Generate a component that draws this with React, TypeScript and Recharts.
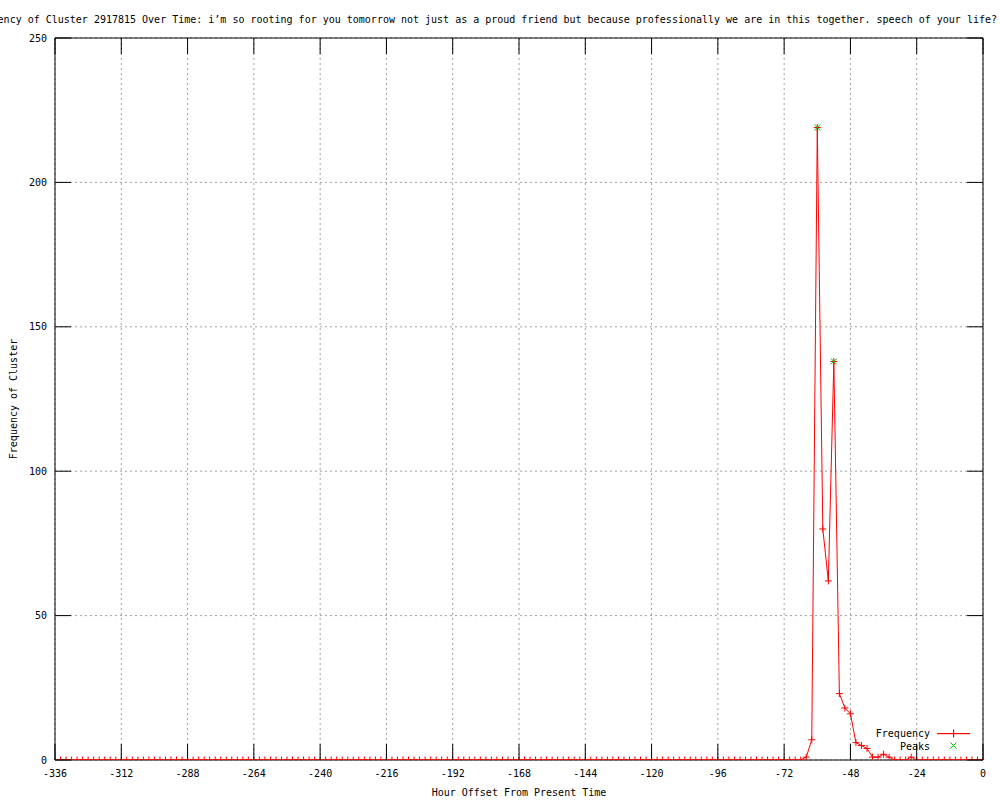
import React from 'react';
import { LineChart, Line, XAxis, YAxis, CartesianGrid, ReferenceArea, Legend } from 'recharts';

document.body.style.margin = '0';

const hours = [
  -336, -334, -332, -330, -328, -326, -324, -322, -320, -318, -316, -314,
  -312, -310, -308, -306, -304, -302, -300, -298, -296, -294, -292, -290,
  -288, -286, -284, -282, -280, -278, -276, -274, -272, -270, -268, -266,
  -264, -262, -260, -258, -256, -254, -252, -250, -248, -246, -244, -242,
  -240, -238, -236, -234, -232, -230, -228, -226, -224, -222, -220, -218,
  -216, -214, -212, -210, -208, -206, -204, -202, -200, -198, -196, -194,
  -192, -190, -188, -186, -184, -182, -180, -178, -176, -174, -172, -170,
  -168, -166, -164, -162, -160, -158, -156, -154, -152, -150, -148, -146,
  -144, -142, -140, -138, -136, -134, -132, -130, -128, -126, -124, -122,
  -120, -118, -116, -114, -112, -110, -108, -106, -104, -102, -100, -98,
  -96, -94, -92, -90, -88, -86, -84, -82, -80, -78, -76, -74,
  -72, -70, -68, -66, -64, -62, -60, -58, -56, -54, -52, -50,
  -48, -46, -44, -42, -40, -38, -36, -34, -32, -30, -28, -26,
  -24, -22, -20, -18, -16, -14, -12, -10, -8, -6, -4, -2,
  0,
];

const frequency = [
  0, 0, 0, 0, 0, 0, 0, 0, 0, 0, 0, 0,
  0, 0, 0, 0, 0, 0, 0, 0, 0, 0, 0, 0,
  0, 0, 0, 0, 0, 0, 0, 0, 0, 0, 0, 0,
  0, 0, 0, 0, 0, 0, 0, 0, 0, 0, 0, 0,
  0, 0, 0, 0, 0, 0, 0, 0, 0, 0, 0, 0,
  0, 0, 0, 0, 0, 0, 0, 0, 0, 0, 0, 0,
  0, 0, 0, 0, 0, 0, 0, 0, 0, 0, 0, 0,
  0, 0, 0, 0, 0, 0, 0, 0, 0, 0, 0, 0,
  0, 0, 0, 0, 0, 0, 0, 0, 0, 0, 0, 0,
  0, 0, 0, 0, 0, 0, 0, 0, 0, 0, 0, 0,
  0, 0, 0, 0, 0, 0, 0, 0, 0, 0, 0, 0,
  0, 0, 0, 0, 1, 7, 219, 80, 62, 138, 23, 18,
  16, 6, 5, 4, 1, 1, 2, 1, 0, 0, 0, 1,
  0, 0, 0, 0, 0, 0, 0, 0, 0, 0, 0, 0,
  0,
];

const peakHours = [-60, -54];
const peakValues = [219, 138];

const xTicks = [-336, -312, -288, -264, -240, -216, -192, -168, -144, -120, -96, -72, -48, -24, 0];
const yTicks = [0, 50, 100, 150, 200, 250];

const TITLE =
  'Frequency of Cluster 2917815 Over Time: i’m so rooting for you tomorrow not just as a proud friend but because professionally we are in this together. speech of your life?';
const X_LABEL = 'Hour Offset From Present Time';
const Y_LABEL = 'Frequency of Cluster';
const SERIES_NAME = 'Frequency';
const PEAKS_NAME = 'Peaks';

const data = hours.map((h, i) => {
  const pi = peakHours.indexOf(h);
  return { hour: h, freq: frequency[i], peak: pi >= 0 ? peakValues[pi] : null };
});

const W = 1000;
const H = 800;
const PLOT_LEFT = 55;
const PLOT_RIGHT = 983;
const PLOT_TOP = 38;
const PLOT_BOTTOM = 760;
const TICK = 16;
const FONT = "'DejaVu Sans Mono', 'Liberation Mono', monospace";
const FS = 10;
const RED = '#ff0000';
const GREEN = '#00c000';

const XTick = (props: any) => {
  const { x, payload } = props;
  return (
    <g>
      <line x1={x} y1={PLOT_BOTTOM} x2={x} y2={PLOT_BOTTOM - TICK} stroke="#000" strokeWidth={1} />
      <line x1={x} y1={PLOT_TOP} x2={x} y2={PLOT_TOP + TICK} stroke="#000" strokeWidth={1} />
      <text x={x} y={PLOT_BOTTOM + 17} textAnchor="middle" fontFamily={FONT} fontSize={FS} fill="#000">
        {payload.value}
      </text>
    </g>
  );
};

const YTick = (props: any) => {
  const { y, payload } = props;
  return (
    <g>
      <line x1={PLOT_LEFT} y1={y} x2={PLOT_LEFT + TICK} y2={y} stroke="#000" strokeWidth={1} />
      <line x1={PLOT_RIGHT} y1={y} x2={PLOT_RIGHT - TICK} y2={y} stroke="#000" strokeWidth={1} />
      <text x={PLOT_LEFT - 8} y={y + 3.5} textAnchor="end" fontFamily={FONT} fontSize={FS} fill="#000">
        {payload.value}
      </text>
    </g>
  );
};

const PlusDot = (props: any) => {
  const { cx, cy, index } = props;
  if (cx == null || cy == null) return <g key={`p${index}`} />;
  return (
    <g key={`p${index}`}>
      <line x1={cx - 3.5} y1={cy} x2={cx + 3.5} y2={cy} stroke={RED} strokeWidth={1} />
      <line x1={cx} y1={cy - 3.5} x2={cx} y2={cy + 3.5} stroke={RED} strokeWidth={1} />
    </g>
  );
};

const CrossDot = (props: any) => {
  const { cx, cy, index, value } = props;
  if (cx == null || cy == null || value == null) return <g key={`x${index}`} />;
  return (
    <g key={`x${index}`}>
      <line x1={cx - 3} y1={cy - 3} x2={cx + 3} y2={cy + 3} stroke={GREEN} strokeWidth={1} />
      <line x1={cx - 3} y1={cy + 3} x2={cx + 3} y2={cy - 3} stroke={GREEN} strokeWidth={1} />
    </g>
  );
};

const Overlay = () => (
  <div style={{ position: 'relative', width: 0, height: 0 }}>
    <svg
      width={W}
      height={H}
      style={{ position: 'absolute', left: 0, top: 0, overflow: 'visible', pointerEvents: 'none' }}
    >
      <text x={997} y={23} textAnchor="end" fontFamily={FONT} fontSize={FS} fill="#000">
        {TITLE}
      </text>
      <text x={930} y={737} textAnchor="end" fontFamily={FONT} fontSize={FS} fill="#000">
        {SERIES_NAME}
      </text>
      <rect x={937} y={733} width={33} height={1.2} fill={RED} />
      <rect x={953} y={729.5} width={1.2} height={8} fill={RED} />
      <text x={930} y={750} textAnchor="end" fontFamily={FONT} fontSize={FS} fill="#000">
        {PEAKS_NAME}
      </text>
      <path d="M950.5 742.5 L956.5 748.5 M950.5 748.5 L956.5 742.5" fill="none" stroke={GREEN} strokeWidth={1} />
    </svg>
  </div>
);

export default function App() {
  return (
    <div style={{ position: 'relative', width: W, height: H, background: '#fff' }}>
      <LineChart
        width={W}
        height={H}
        data={data}
        margin={{ top: PLOT_TOP, right: W - PLOT_RIGHT, left: 0, bottom: 0 }}
      >
        <CartesianGrid stroke="#a0a0a0" strokeDasharray="2 3" strokeWidth={1} />
        <XAxis
          dataKey="hour"
          type="number"
          domain={[-336, 0]}
          ticks={xTicks}
          interval={0}
          height={H - PLOT_BOTTOM}
          axisLine={false}
          tickLine={false}
          tick={<XTick />}
          allowDataOverflow
          label={{
            value: X_LABEL,
            position: 'insideBottom',
            offset: 4,
            fontFamily: FONT,
            fontSize: FS,
            fill: '#000',
          }}
        />
        <YAxis
          type="number"
          domain={[0, 250]}
          ticks={yTicks}
          interval={0}
          width={PLOT_LEFT}
          axisLine={false}
          tickLine={false}
          tick={<YTick />}
          allowDataOverflow
          label={(p: any) => {
            const vb = p.viewBox || { x: 0, y: PLOT_TOP, width: PLOT_LEFT, height: PLOT_BOTTOM - PLOT_TOP };
            const cy = vb.y + vb.height / 2;
            return (
              <text
                x={13}
                y={cy}
                dy={3.5}
                transform={`rotate(-90 13 ${cy})`}
                textAnchor="middle"
                fontFamily={FONT}
                fontSize={FS}
                fill="#000"
              >
                {Y_LABEL}
              </text>
            );
          }}
        />
        <Line
          dataKey="freq"
          name={SERIES_NAME}
          stroke={RED}
          strokeWidth={1}
          dot={PlusDot}
          activeDot={false}
          isAnimationActive={false}
          type="linear"
        />
        <Line
          dataKey="peak"
          name={PEAKS_NAME}
          stroke="none"
          dot={CrossDot}
          activeDot={false}
          isAnimationActive={false}
          connectNulls={false}
        />
        <ReferenceArea
          x1={-336}
          x2={0}
          y1={0}
          y2={250}
          fill="none"
          fillOpacity={0}
          stroke="#000"
          strokeWidth={1}
          ifOverflow="visible"
        />
        <Legend
          verticalAlign="top"
          content={() => <Overlay />}
          wrapperStyle={{ left: 0, top: 0, width: 0, height: 0 }}
        />
      </LineChart>
    </div>
  );
}
